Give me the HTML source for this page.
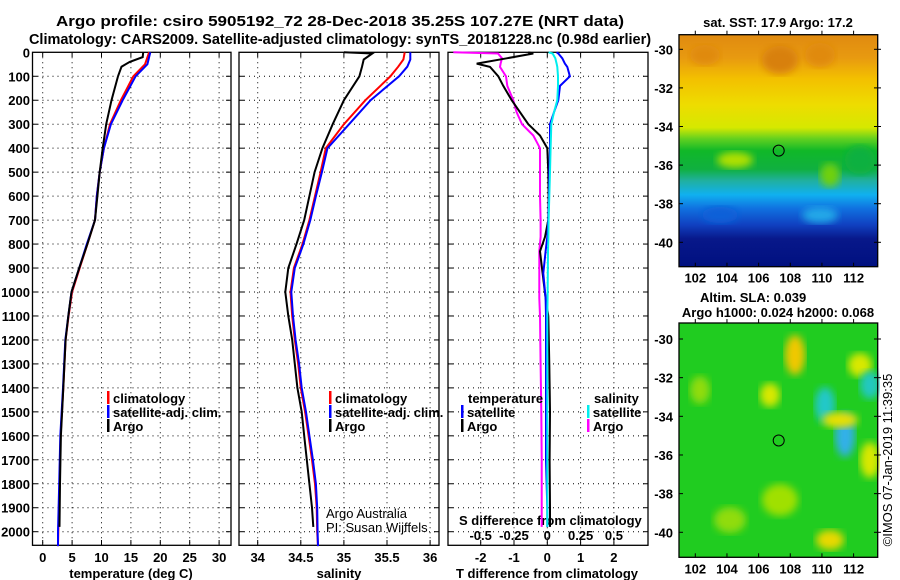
<!DOCTYPE html>
<html><head><meta charset="utf-8"><style>
body{margin:0;background:#fff;}
svg{display:block;font-family:"Liberation Sans",sans-serif;}
.b{font-weight:bold;font-size:13px;}
.t{font-weight:bold;font-size:14.5px;}
</style></head><body>
<svg id="s" width="900" height="580" viewBox="0 0 900 580">
<defs>
<linearGradient id="sst" x1="0" y1="0" x2="0" y2="1">
<stop offset="0" stop-color="#e08a10"/><stop offset="0.1" stop-color="#e89a10"/>
<stop offset="0.19" stop-color="#f3c000"/><stop offset="0.3" stop-color="#eedc00"/>
<stop offset="0.4" stop-color="#d6e800"/><stop offset="0.45" stop-color="#60d020"/>
<stop offset="0.5" stop-color="#10b828"/><stop offset="0.58" stop-color="#10b040"/>
<stop offset="0.63" stop-color="#20b0a0"/><stop offset="0.69" stop-color="#10b0f0"/>
<stop offset="0.75" stop-color="#1070e0"/><stop offset="0.82" stop-color="#1040c0"/>
<stop offset="0.88" stop-color="#08188a"/><stop offset="1" stop-color="#001080"/>
</linearGradient>
<filter id="bl"><feGaussianBlur stdDeviation="4"/></filter>
</defs>
<g id="g"></g>
</svg>
<script>
// ---- data ----
const tDepth=[0,20,40,60,100,200,300,400,500,600,700,800,900,1000,1100,1200,1400,1600,1800,1980];
const tArgo=[17.1,17.0,14.8,13.4,12.8,11.7,10.8,10.2,9.7,9.3,8.9,7.6,6.2,4.9,4.35,3.9,3.5,3.1,2.95,2.85];
const cDepth=[0,50,100,200,300,400,500,600,700,800,900,1000,1100,1200,1400,1600,1800,2000,2060];
const tClim=[18.1,17.4,15.4,13.3,11.45,10.4,9.7,9.2,8.9,7.6,6.3,5.0,4.4,3.9,3.5,3.05,2.85,2.65,2.6];
const tSat=[18.3,17.8,15.8,13.6,11.6,10.4,9.7,9.2,8.9,7.5,6.2,4.9,4.35,3.85,3.45,3.0,2.8,2.6,2.6];
const sDepth=[0,5,30,60,100,200,300,400,500,600,700,800,900,1000,1100,1200,1300,1400,1500,1600,1700,1800,1900,1980];
const sArgo=[35.0,35.33,35.23,35.21,35.18,35.0,34.87,34.75,34.66,34.60,34.54,34.45,34.355,34.32,34.355,34.40,34.43,34.46,34.51,34.54,34.57,34.60,34.63,34.645];
const scDepth=[0,30,60,100,200,300,400,500,600,700,800,900,1000,1100,1200,1300,1400,1500,1600,1700,1800,1900,2000,2060];
const sClim=[35.705,35.69,35.63,35.54,35.25,35.0,34.79,34.73,34.665,34.60,34.52,34.42,34.38,34.40,34.43,34.47,34.50,34.55,34.59,34.63,34.665,34.685,34.69,34.70];
const sSat=[35.77,35.77,35.735,35.64,35.31,35.06,34.81,34.745,34.675,34.61,34.53,34.43,34.39,34.41,34.44,34.48,34.51,34.56,34.60,34.64,34.675,34.69,34.695,34.70];
const dDepth=[0,5,25,47,61,100,140,200,250,300,347,400,500,600,700,770,830,922,1025,1100,1300,1500,1700,1900,1980];
const dTArgo=[-0.57,-0.42,-1.22,-2.12,-1.72,-1.47,-1.32,-1.07,-0.82,-0.57,-0.22,0.0,0.03,0.04,0.03,-0.07,-0.22,-0.14,-0.05,0.03,0.06,0.08,0.07,0.08,0.08];
const dTSat=[0.28,0.33,0.45,0.53,0.6,0.68,0.38,0.33,0.2,0.08,0.08,0.08,0.06,0.05,0.03,0.0,-0.05,-0.12,-0.05,-0.04,-0.04,-0.04,-0.04,0.0,0.0];
const dSArgo=[-0.705,-0.37,-0.34,-0.35,-0.355,-0.31,-0.3,-0.255,-0.23,-0.19,-0.105,-0.055,-0.055,-0.055,-0.05,-0.05,-0.06,-0.06,-0.06,-0.055,-0.05,-0.045,-0.042,-0.042,-0.042];
const dSSat=[0.01,0.04,0.06,0.07,0.075,0.08,0.08,0.075,0.05,0.03,0.028,0.025,0.02,0.015,0.01,0.008,0.005,0.004,0.002,0.0,0.0,0.0,0.0,0.0,0.0];
const depthTicks=[0,100,200,300,400,500,600,700,800,900,1000,1100,1200,1300,1400,1500,1600,1700,1800,1900,2000];
const tTicks=[0,5,10,15,20,25,30];
const sTicks=[34,34.5,35,35.5,36];
const sTickLabels=["34","34.5","35","35.5","36"];
const dtTicks=[-2,-1,0,1,2];
const dsTicks=[-0.5,-0.25,0,0.25,0.5];
const dsTickLabels=["-0.5","-0.25","0","0.25","0.5"];
const latTicks=[-30,-32,-34,-36,-38,-40];
const lonTicks=[102,104,106,108,110,112];
// ---- scales ----
const Y=d=>52.3+d*0.2397;
const XT=t=>42.7+t*5.88;
const XS=s=>257.7+(s-34)*86.2;
const XDT=t=>547.3+t*33.3;
const XDS=s=>547.3+s*133.3;
const LON=l=>695.3+(l-102)*15.83;
const LAT1=l=>49.3+(-30-l)*19.3;
const LAT2=l=>339+(-30-l)*19.33;
const NS="http://www.w3.org/2000/svg";
const G=document.getElementById('g');
function el(tag,attrs,txt){const e=document.createElementNS(NS,tag);for(const k in attrs)e.setAttribute(k,attrs[k]);if(txt!==undefined)e.textContent=txt;G.appendChild(e);return e;}
function line(xs,ds,fx,col,name){
  const p=el('polyline',{points:xs.map((v,i)=>fx(v).toFixed(1)+','+Y(ds[i]).toFixed(1)).join(' '),fill:'none',stroke:col,'stroke-width':2});
  
  
}
function text(x,y,s,cls,anchor,name,extra){
  const t=el('text',Object.assign({x:x,y:y,class:cls||'b','text-anchor':anchor||'start'},extra||{}),s);
  
  
  return t;
}
function panel(x0,x1,vx,name){
  const r=el('rect',{x:x0,y:52.3,width:x1-x0,height:493,fill:'#fff',stroke:'#000','stroke-width':1.3});
  
  
  depthTicks.forEach(d=>{if(d>0){el('line',{x1:x0,x2:x1,y1:Y(d),y2:Y(d),stroke:'#000','stroke-width':1,'stroke-dasharray':'1 4'});
    el('line',{x1:x0,x2:x0+5,y1:Y(d),y2:Y(d),stroke:'#000'});el('line',{x1:x1-5,x2:x1,y1:Y(d),y2:Y(d),stroke:'#000'});}});
  vx.forEach(x=>{el('line',{x1:x,x2:x,y1:52.3,y2:545.3,stroke:'#000','stroke-width':1,'stroke-dasharray':'1 4'});
    el('line',{x1:x,x2:x,y1:540,y2:545.3,stroke:'#000'});el('line',{x1:x,x2:x,y1:52.3,y2:57,stroke:'#000'});});
}
// titles
text(340,26,"Argo profile: csiro 5905192_72 28-Dec-2018 35.25S 107.27E (NRT data)",'t','middle','figure-title',{textLength:568,lengthAdjust:'spacingAndGlyphs'});
text(340,44,"Climatology: CARS2009. Satellite-adjusted climatology: synTS_20181228.nc (0.98d earlier)",'t','middle','figure-subtitle');
// panels
panel(32.5,231,tTicks.map(XT),'temperature-panel');
panel(239,439,sTicks.map(XS),'salinity-panel');
panel(448,648,dtTicks.map(XDT),'difference-panel');
depthTicks.forEach(d=>text(30,Y(d)+5,String(d),'b','end','depth-tick-label'));
tTicks.forEach(t=>text(XT(t),562,String(t),'b','middle','temperature-tick-label'));
text(131,578,"temperature (deg C)",'b','middle','temperature-axis-title');
sTicks.forEach((s,i)=>text(XS(s),562,sTickLabels[i],'b','middle','salinity-tick-label'));
text(339,578,"salinity",'b','middle','salinity-axis-title');
dtTicks.forEach(t=>text(XDT(t),562,String(t),'b','middle','t-diff-tick-label'));
dsTicks.forEach((s,i)=>text(XDS(s),540,dsTickLabels[i],'b','middle','s-diff-tick-label'));
text(459,525,"S difference from climatology",'b','start','s-diff-axis-title');
text(547,578,"T difference from climatology",'b','middle','t-diff-axis-title');
// series
line(tClim,cDepth,XT,'#f00','temp-climatology-line');
line(tSat,cDepth,XT,'#00f','temp-satellite-line');
line(tArgo,tDepth,XT,'#000','temp-argo-line');
line(sClim,scDepth,XS,'#f00','sal-climatology-line');
line(sSat,scDepth,XS,'#00f','sal-satellite-line');
line(sArgo,sDepth,XS,'#000','sal-argo-line');
line(dSArgo,dDepth,XDS,'#f0f','s-diff-argo-line');
line(dTArgo,dDepth,XDT,'#000','t-diff-argo-line');
line(dTSat,dDepth,XDT,'#00f','t-diff-satellite-line');
line(dSSat,dDepth,XDS,'#0ee','s-diff-satellite-line');
// legends
function leg(x,y,col,s,name){el('rect',{x:x,y:y-7,width:2.5,height:13,fill:col});text(x+6,y+5,s,'b','start',name);}
[[107,'climatology','#f00'],[107,'satellite-adj. clim.','#00f'],[107,'Argo','#000']].forEach((a,i)=>leg(a[0],398+i*14,a[2],a[1],'temp-legend-entry'));
[[329,'climatology','#f00'],[329,'satellite-adj. clim.','#00f'],[329,'Argo','#000']].forEach((a,i)=>leg(a[0],398+i*14,a[2],a[1],'sal-legend-entry'));
text(468,403,"temperature",'b','start','legend-temperature-header');
text(594,403,"salinity",'b','start','legend-salinity-header');
leg(461,412,'#00f','satellite','legend-t-satellite');leg(461,426,'#000','Argo','legend-t-argo');
leg(587,412,'#0ee','satellite','legend-s-satellite');leg(587,426,'#f0f','Argo','legend-s-argo');
text(326,518,"Argo Australia",'b','start','credit-argo-australia').style.fontWeight='normal';
text(326,532,"PI: Susan Wijffels",'b','start','credit-pi').style.fontWeight='normal';
// maps
function blobs(list){
  const cp=el('g',{});
  list.forEach(b=>{
    const e=document.createElementNS(NS,'ellipse');e.setAttribute('cx',b[0]);e.setAttribute('cy',b[1]);e.setAttribute('rx',b[2]);e.setAttribute('ry',b[3]);e.setAttribute('fill',b[4]);e.setAttribute('filter','url(#bl)');cp.appendChild(e);});
  G.appendChild(cp);
}
function map(top,bot,LAT,name,isSst){
  const w=877.7-679;
  if(isSst){el('rect',{x:679,y:top,width:w,height:bot-top,fill:'url(#sst)'});
    blobs([[780,60,18,14,'#d8800f'],[820,55,15,12,'#e08a10'],[705,55,15,10,'#e08a10'],[860,160,15,14,'#10b040'],[735,160,18,8,'#b0e000'],[830,175,10,12,'#70d010'],[720,215,18,8,'#1060d8'],[820,215,18,8,'#20a8e8']]);
  } else {
    el('rect',{x:679,y:top,width:w,height:bot-top,fill:'#20cc20'});
    blobs([[795,355,10,20,'#f0c800'],[860,365,12,12,'#d8e800'],[870,385,10,14,'#20c8c0'],[825,405,10,18,'#20c8c8'],[845,435,10,22,'#30b0e8'],[840,420,18,8,'#e8e000'],[770,395,10,12,'#d8e800'],[780,500,18,16,'#a0e000'],[830,540,14,10,'#e8d800'],[700,390,10,14,'#90dc10'],[870,460,10,18,'#d8e800'],[730,520,16,13,'#90dc10']]);
    el('rect',{x:880,y:top,width:20,height:bot-top,fill:'#fff'});
    el('rect',{x:660,y:top,width:19,height:bot-top,fill:'#fff'});
  }
  const r=el('rect',{x:679,y:top,width:w,height:bot-top,fill:'none',stroke:'#000','stroke-width':1.3});
  
  
  latTicks.forEach(l=>{el('line',{x1:679,x2:683,y1:LAT(l),y2:LAT(l),stroke:'#000'});el('line',{x1:874,x2:881,y1:LAT(l),y2:LAT(l),stroke:'#000'});
    text(673,LAT(l)+5,String(l),'b','end','latitude-tick-label');});
  lonTicks.forEach(l=>{el('line',{x1:LON(l),x2:LON(l),y1:bot-4,y2:bot,stroke:'#000'});el('line',{x1:LON(l),x2:LON(l),y1:top-4,y2:top,stroke:'#000'});
    text(LON(l),bot+16,String(l),'b','middle','longitude-tick-label');});
  const c=el('circle',{cx:778.7,cy:LAT(-35.25),r:5.5,fill:'none',stroke:'#000','stroke-width':1});
  
  
}
map(34.7,266.7,LAT1,'sst-map',true);
map(323,557.3,LAT2,'sla-map',false);
text(778,27,"sat. SST: 17.9 Argo: 17.2",'b','middle','sst-map-title');
text(700,302,"Altim. SLA: 0.039",'b','start','sla-map-title');
text(778,317,"Argo h1000: 0.024 h2000: 0.068",'b','middle','sla-map-subtitle');
const v=text(892,460,"©IMOS 07-Jan-2019 11:39:35",'b','middle','timestamp',{transform:'rotate(-90 892 460)'});
v.style.fontWeight='normal';
</script>
</body></html>
